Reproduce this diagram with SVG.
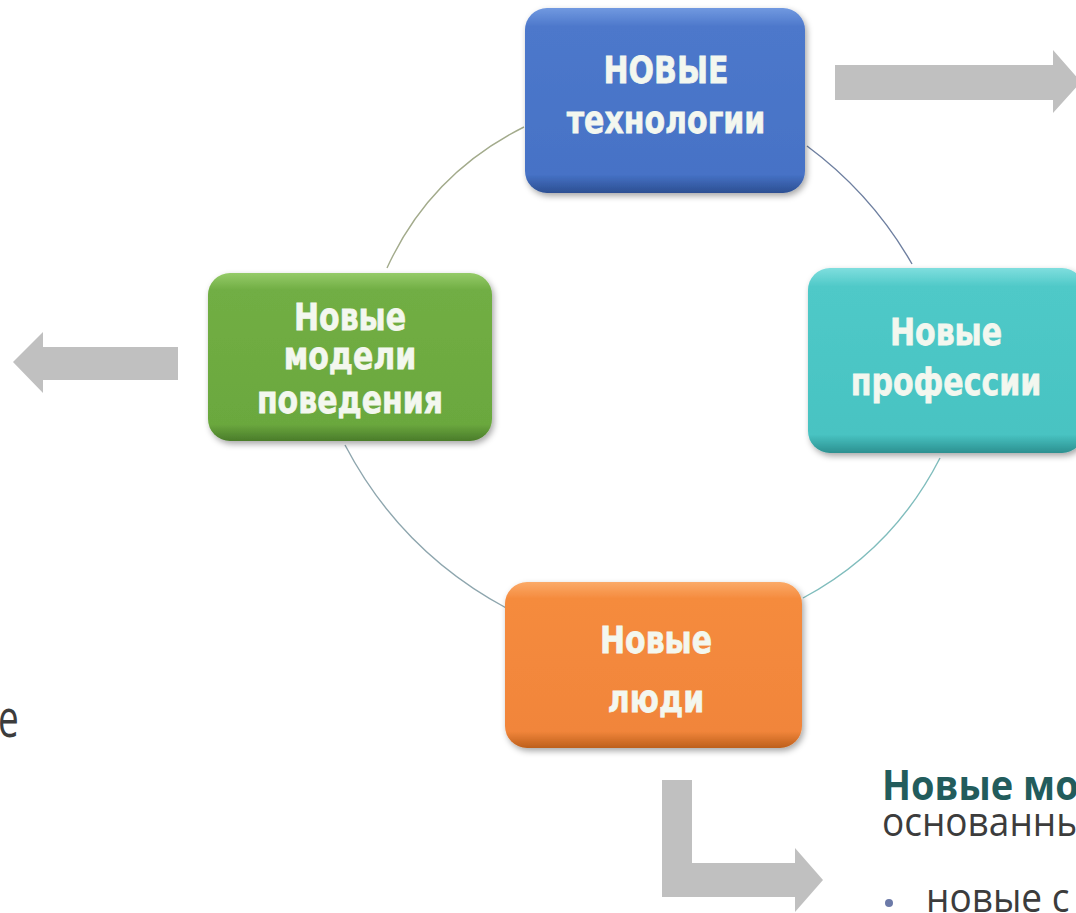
<svg xmlns="http://www.w3.org/2000/svg" width="1076" height="913" viewBox="0 0 1076 913">
<style>
.bg{fill:#ffffff}
.arc{fill:none;stroke-width:1.4}
.arrow{fill:#c0c0c0}
.box{filter:url(#sh)}
.lbl{font-family:"DejaVu Sans",Verdana,sans-serif;font-weight:bold;font-size:30px;fill:#f3f7ef;text-anchor:middle;stroke:#f3f7ef;stroke-width:0.6}
.hd{font-family:"Open Sans","Noto Sans",sans-serif;font-weight:bold;font-size:38px;fill:#225c5c}
.bd{font-family:"Open Sans","Noto Sans",sans-serif;font-size:37px;fill:#3c3c3c}
</style>
<defs>
<filter id="sh" x="-10%" y="-10%" width="125%" height="130%">
<feDropShadow dx="2" dy="3" stdDeviation="3" flood-color="#000" flood-opacity="0.35"/>
</filter>
<linearGradient id="gBlue" x1="0" y1="0" x2="0" y2="1">
<stop offset="0" stop-color="#7199e0"/><stop offset="0.1" stop-color="#4d78cb"/><stop offset="0.9" stop-color="#4672c6"/><stop offset="1" stop-color="#2c4f92"/>
</linearGradient>
<linearGradient id="gGreen" x1="0" y1="0" x2="0" y2="1">
<stop offset="0" stop-color="#95cb68"/><stop offset="0.1" stop-color="#71ae44"/><stop offset="0.9" stop-color="#6ba83e"/><stop offset="1" stop-color="#4a7c2a"/>
</linearGradient>
<linearGradient id="gCyan" x1="0" y1="0" x2="0" y2="1">
<stop offset="0" stop-color="#7fdede"/><stop offset="0.1" stop-color="#4fc9c8"/><stop offset="0.9" stop-color="#48c3c2"/><stop offset="1" stop-color="#2c9090"/>
</linearGradient>
<linearGradient id="gOrange" x1="0" y1="0" x2="0" y2="1">
<stop offset="0" stop-color="#fbaa68"/><stop offset="0.1" stop-color="#f58b3e"/><stop offset="0.9" stop-color="#f1853a"/><stop offset="1" stop-color="#bd5f1c"/>
</linearGradient>
</defs>
<rect class="bg" x="0" y="0" width="1076" height="913"/>
<g id="connectors">
<path class="arc" stroke="#a3ab8c" d="M 524 127 Q 430 174 387 268"/>
<path class="arc" stroke="#6e7fa0" d="M 807 146 Q 872 194 912 264"/>
<path class="arc" stroke="#80bdbd" d="M 940 458 Q 893 550 803 598"/>
<path class="arc" stroke="#8ea6ae" d="M 345 445 Q 401 552 508 609"/>
<path class="arrow" d="M 835 65 H 1053 V 50 L 1081 82 L 1053 113 V 100 H 835 Z"/>
<path class="arrow" d="M 178 347 H 43 V 332 L 13 362 L 43 393 V 380 H 178 Z"/>
<path class="arrow" d="M 662 780 H 692 V 863 H 795 V 848 L 823 880 L 795 912 V 897 H 662 Z"/>
</g>
<g id="node-tech">
<rect class="box" x="525" y="8" width="280" height="185" rx="22" fill="url(#gBlue)"/>
<text class="lbl" transform="matrix(1,0,0,1.27,666,83)">НОВЫЕ</text>
<text class="lbl" transform="matrix(1,0,0,1.27,666,133)">технологии</text>
</g>
<g id="node-models">
<rect class="box" x="208" y="273" width="284" height="168" rx="22" fill="url(#gGreen)"/>
<text class="lbl" transform="matrix(1,0,0,1.27,350,330)">Новые</text>
<text class="lbl" transform="matrix(1,0,0,1.27,350,369)">модели</text>
<text class="lbl" transform="matrix(1,0,0,1.27,350,413)">поведения</text>
</g>
<g id="node-prof">
<rect class="box" x="808" y="268" width="276" height="185" rx="22" fill="url(#gCyan)"/>
<text class="lbl" transform="matrix(1,0,0,1.27,946,345)">Новые</text>
<text class="lbl" transform="matrix(1,0,0,1.27,946,395)">профессии</text>
</g>
<g id="node-people">
<rect class="box" x="505" y="582" width="297" height="166" rx="22" fill="url(#gOrange)"/>
<text class="lbl" transform="matrix(1,0,0,1.27,656,653)">Новые</text>
<text class="lbl" transform="matrix(1,0,0,1.27,656,712)">люди</text>
</g>
<g id="side-text">
<text class="hd" transform="matrix(1,0,0,1.1,882,800)">Новые мо</text>
<text class="bd" transform="matrix(1,0,0,1.1,882,836)">основанны</text>
<circle cx="889" cy="903" r="4" fill="#6c7aa8"/>
<text class="bd" transform="matrix(1,0,0,1.1,926,912)">новые с</text>
<text class="bd" transform="matrix(1,0,0,1.45,-2,737)">е</text>
</g>
</svg>
